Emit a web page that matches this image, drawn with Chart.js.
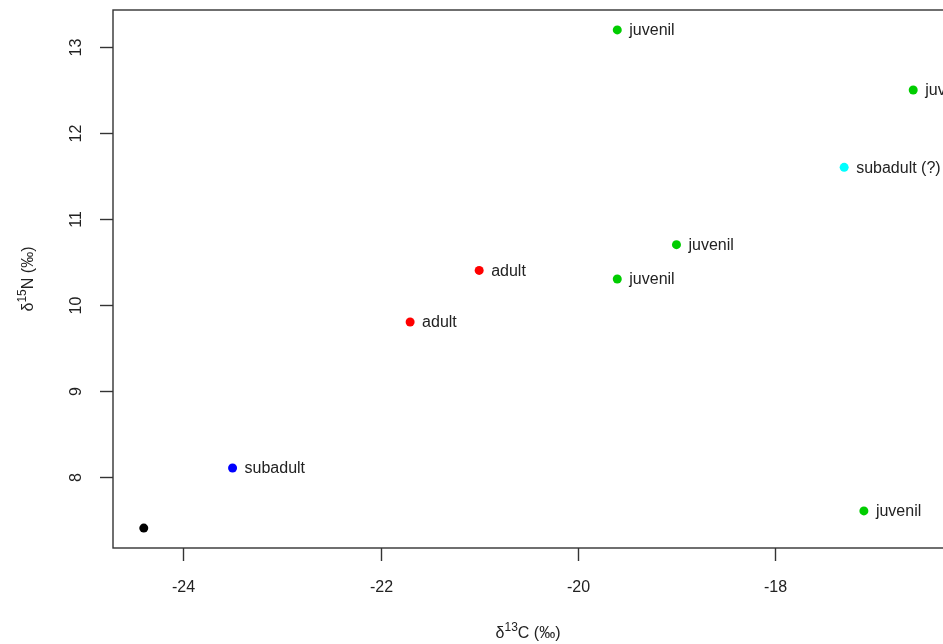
<!DOCTYPE html>
<html>
<head>
<meta charset="utf-8">
<script src="https://cdn.jsdelivr.net/npm/chart.js@4/dist/chart.umd.min.js"></script>
<style>
  html, body { margin: 0; padding: 0; background: #fff; overflow: hidden; }
  #wrap { width: 1000px; height: 644px; }
</style>
</head>
<body>
<div id="wrap"><canvas id="c" width="1000" height="644"></canvas></div>
<script>
// Stable isotope values per specimen
const d13C   = [-24.4, -23.5, -21.7, -21.0, -19.6, -19.6, -19.0, -17.3, -16.6, -17.1];
const d15N   = [7.4, 8.1, 9.8, 10.4, 13.2, 10.3, 10.7, 11.6, 12.5, 7.6];
const stages = ['', 'subadult', 'adult', 'adult', 'juvenil', 'juvenil', 'juvenil', 'subadult (?)', 'juvenil', 'juvenil'];
const colours = ['#000000', '#0000FF', '#FF0000', '#FF0000', '#00CD00', '#00CD00', '#00CD00', '#00FFFF', '#00CD00', '#00CD00'];
const xTicks = [-24, -22, -20, -18];
const yTicks = [8, 9, 10, 11, 12, 13];

const FONT = '"Liberation Sans", Arial, sans-serif';
const INK = '#333333';

// text with a raised superscript part: [main, sup, rest]
function supText(ctx, parts, size) {
  const [a, s, b] = parts;
  ctx.font = size + 'px ' + FONT;
  const wa = ctx.measureText(a).width;
  const wb = ctx.measureText(b).width;
  ctx.font = Math.round(size * 0.72) + 'px ' + FONT;
  const ws = ctx.measureText(s).width;
  return {
    width: wa + ws + wb,
    draw(x0, y) {
      ctx.textAlign = 'left';
      ctx.textBaseline = 'alphabetic';
      ctx.font = size + 'px ' + FONT;
      ctx.fillText(a, x0, y);
      ctx.font = Math.round(size * 0.72) + 'px ' + FONT;
      ctx.fillText(s, x0 + wa, y - size * 0.42);
      ctx.font = size + 'px ' + FONT;
      ctx.fillText(b, x0 + wa + ws, y);
    }
  };
}

const framePlugin = {
  id: 'frame',
  afterDatasetsDraw(chart) {
    const ctx = chart.ctx;
    const { left, right, top, bottom } = chart.chartArea;
    const xs = chart.scales.x, ys = chart.scales.y;
    ctx.save();
    ctx.strokeStyle = INK;
    ctx.lineWidth = 1.4;
    ctx.strokeRect(left, top, right - left, bottom - top);

    const tick = 13;
    ctx.fillStyle = '#222';
    ctx.font = '16px ' + FONT;
    // x axis ticks
    xTicks.forEach(v => {
      const px = Math.round(xs.getPixelForValue(v)) + 0.5;
      ctx.beginPath();
      ctx.moveTo(px, bottom);
      ctx.lineTo(px, bottom + tick);
      ctx.stroke();
      ctx.textAlign = 'center';
      ctx.textBaseline = 'middle';
      ctx.fillText(String(v), px, 588);
    });
    // y axis ticks, labels turned upright along the axis
    yTicks.forEach(v => {
      const py = Math.round(ys.getPixelForValue(v)) + 0.5;
      ctx.beginPath();
      ctx.moveTo(left, py);
      ctx.lineTo(left - tick, py);
      ctx.stroke();
      ctx.save();
      ctx.translate(77, py);
      ctx.rotate(-Math.PI / 2);
      ctx.textAlign = 'center';
      ctx.textBaseline = 'middle';
      ctx.fillText(String(v), 0, 0);
      ctx.restore();
    });

    // axis titles
    const xt = supText(ctx, ['\u03B4', '13', 'C (\u2030)'], 16);
    xt.draw(528 - xt.width / 2, 638);
    ctx.save();
    ctx.translate(33, (top + bottom) / 2);
    ctx.rotate(-Math.PI / 2);
    const yt = supText(ctx, ['\u03B4', '15', 'N (\u2030)'], 16);
    yt.draw(-yt.width / 2, 0);
    ctx.restore();

    // point labels, right of each point
    ctx.font = '16px ' + FONT;
    ctx.textAlign = 'left';
    ctx.textBaseline = 'middle';
    ctx.fillStyle = '#222';
    d13C.forEach((x, i) => {
      if (!stages[i]) return;
      ctx.fillText(stages[i], xs.getPixelForValue(x) + 12, ys.getPixelForValue(d15N[i]) + 1);
    });
    ctx.restore();
  }
};

new Chart(document.getElementById('c'), {
  type: 'scatter',
  data: {
    datasets: [{
      data: d13C.map((x, i) => ({ x, y: d15N[i] })),
      pointBackgroundColor: colours,
      pointBorderColor: colours,
      pointRadius: 4.5,
      pointBorderWidth: 0
    }]
  },
  options: {
    responsive: false,
    devicePixelRatio: 1,
    animation: false,
    layout: { padding: { left: 113, top: 10, right: 56, bottom: 96 } },
    plugins: { legend: { display: false }, tooltip: { enabled: false } },
    scales: {
      x: { type: 'linear', min: -24.712, max: -16.288, display: false },
      y: { type: 'linear', min: 7.168, max: 13.432, display: false }
    }
  },
  plugins: [framePlugin]
});
</script>
</body>
</html>
